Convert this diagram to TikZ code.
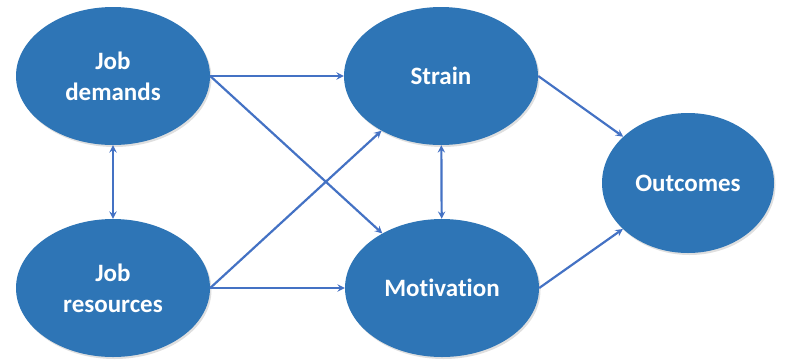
\documentclass[tikz,border=0pt]{standalone}
\usepackage{fontspec}
\setmainfont[Ligatures=NoCommon]{Carlito}
\usetikzlibrary{shapes.geometric,shadows}
\definecolor{oval}{HTML}{2E75B6}
\definecolor{link}{HTML}{4472C4}

\begin{document}
\begin{tikzpicture}[x=1pt, y=-1pt,
	oval/.style={ellipse, fill=oval, text=white, font=\fontsize{25}{31}\selectfont\bfseries, align=center, inner sep=0pt, minimum width=194pt, minimum height=138pt, drop shadow={shadow xshift=1.5pt, shadow yshift=-2pt, opacity=.25}},
	link/.style={draw=link, line width=2.2pt}]
	\useasboundingbox (0, 0) rectangle (791, 360);
	\node[oval] (JD) at (113, 76) {Job\\demands};
	\node[oval] (JR) at (113, 288) {Job\\resources};
	\node[oval] (S) at (441, 76) {Strain};
	\node[oval] (M) at (442, 288) {Motivation};
	\node[oval, minimum width=172pt, minimum height=140pt] (O) at (688, 183) {Outcomes};

	\draw[link, stealth-stealth] (JD) -- (JR);
	\draw[link, stealth-stealth] (S) -- (M);
	\draw[link, -stealth] (JD.east) -- (S);
	\draw[link, -stealth] (JD.east) -- (M);
	\draw[link, -stealth] (JR.east) -- (S);
	\draw[link, -stealth] (JR.east) -- (M);
	\draw[link, -stealth] (S.east) -- (O);
	\draw[link, -stealth] (M.east) -- (O);
\end{tikzpicture}
\end{document}
